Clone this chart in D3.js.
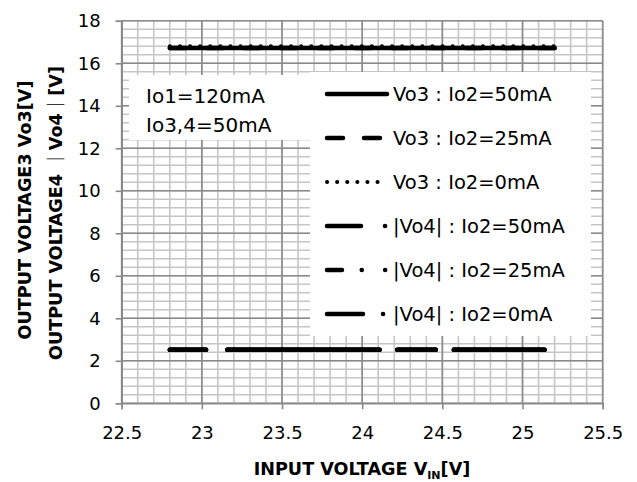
<!DOCTYPE html>
<meta charset="utf-8">
<script src="https://d3js.org/d3.v7.min.js"></script>
<style>
body { margin: 0; background: #fff; }
text { font-family: 'DejaVu Sans', 'Noto Sans CJK JP', sans-serif; fill: #000; }
.grid-minor { stroke: #c6c6c6; stroke-width: 1.6; }
.grid-major { stroke: #8a8a8a; stroke-width: 1.6; }
.axis path, .axis line { stroke: #8a8a8a; stroke-width: 1.6; }
.axis text { font-size: 18px; }
</style>
<div id="chart"></div>
<script>

// data
var vin = [22.8, 23.4, 24.0, 24.6, 25.2];
var vo3_50 = [16.72, 16.72, 16.72, 16.72, 16.72];
var vo3_25 = [16.72, 16.72, 16.72, 16.72, 16.72];
var vo3_0 = [16.8, 16.8, 16.8, 16.8, 16.8];
var vo4_50 = [2.52, 2.52, 2.52, 2.52, 2.52];
var vo4_25 = [2.52, 2.52, 2.52, 2.52, 2.52];
var vo4_0 = [2.52, 2.52, 2.52, 2.52, 2.52];

var xTickValues = [22.5, 23, 23.5, 24, 24.5, 25, 25.5];
var yTickValues = [0, 2, 4, 6, 8, 10, 12, 14, 16, 18];
var legendLabels = ["Vo3 : Io2=50mA", "Vo3 : Io2=25mA", "Vo3 : Io2=0mA",
                    "|Vo4| : Io2=50mA", "|Vo4| : Io2=25mA", "|Vo4| : Io2=0mA"];
var noteLabels = ["Io1=120mA", "Io3,4=50mA"];

// dash look of the three |Vo4| traces as Excel drew them
var vo4Dash = "36.3,21.2,152.2,17.8,38.5,18,90.7,20";

var series = [
  {y: vo3_50, dash: null, legendDash: null},
  {y: vo3_25, dash: "16,21", legendDash: "16,21"},
  {y: vo3_0, dash: "0.1,10", legendDash: "0.1,10", w: 4},
  {y: vo4_50, dash: vo4Dash, legendDash: "34,24,0.1,50"},
  {y: vo4_25, dash: vo4Dash, legendDash: "15,19.7,0.1,23.3,0.1,50"},
  {y: vo4_0, dash: vo4Dash, legendDash: "36,20,0.1,50"}
];

var margin = {top: 20.8, left: 121.7},
    width = 481,
    height = 382.5;

var svg = d3.select("#chart")
  .append("svg")
    .attr("width", 637)
    .attr("height", 482);

var g = svg.append("g")
    .attr("transform", "translate(" + margin.left + "," + margin.top + ")");

var x = d3.scaleLinear().domain([22.5, 25.5]).range([0, width]);
var y = d3.scaleLinear().domain([0, 18]).range([height, 0]);

// minor grid
var xMinor = d3.range(0, 31).map(function(i) { return 22.5 + i * 0.1; });
var yMinor = d3.range(0, 46).map(function(i) { return i * 0.4; });
g.selectAll(".gx").data(xMinor).enter().append("line")
  .attr("class", "grid-minor")
  .attr("x1", function(d) { return x(d); }).attr("x2", function(d) { return x(d); })
  .attr("y1", 0).attr("y2", height);
g.selectAll(".gy").data(yMinor).enter().append("line")
  .attr("class", "grid-minor")
  .attr("y1", function(d) { return y(d); }).attr("y2", function(d) { return y(d); })
  .attr("x1", 0).attr("x2", width);

// major grid
g.selectAll(".mx").data(xTickValues).enter().append("line")
  .attr("class", "grid-major")
  .attr("x1", function(d) { return x(d); }).attr("x2", function(d) { return x(d); })
  .attr("y1", 0).attr("y2", height);
g.selectAll(".my").data(yTickValues).enter().append("line")
  .attr("class", "grid-major")
  .attr("y1", function(d) { return y(d); }).attr("y2", function(d) { return y(d); })
  .attr("x1", 0).attr("x2", width);

// axes
g.append("g")
  .attr("class", "axis")
  .attr("transform", "translate(0," + height + ")")
  .call(d3.axisBottom(x).tickValues(xTickValues).tickSize(6).tickPadding(17)
        .tickFormat(d3.format("~g")))
  .call(function(a) { a.selectAll("text").attr("fill", "#000"); });

g.append("g")
  .attr("class", "axis")
  .call(d3.axisLeft(y).tickValues(yTickValues).tickSize(6).tickPadding(15))
  .call(function(a) { a.selectAll("text").attr("fill", "#000"); });

// white boxes behind the note and the legend
svg.append("rect").attr("x", 129).attr("y", 75).attr("width", 181).attr("height", 65)
  .attr("fill", "#fff");
svg.append("rect").attr("x", 310).attr("y", 72).attr("width", 281).attr("height", 264)
  .attr("fill", "#fff");

// data lines
var line = d3.line()
  .x(function(d) { return x(d[0]); })
  .y(function(d) { return y(d[1]); });

series.forEach(function(s) {
  g.append("path")
    .datum(d3.zip(vin, s.y))
    .attr("d", line)
    .attr("fill", "none")
    .attr("stroke", "#000")
    .attr("stroke-width", s.w || 4.5)
    .attr("stroke-linecap", "round")
    .attr("stroke-dasharray", s.dash);
});

// note text
svg.selectAll(".note").data(noteLabels).enter().append("text")
  .attr("x", 146)
  .attr("y", function(d, i) { return 96 + i * 29; })
  .attr("dy", "0.36em")
  .style("font-size", "20px")
  .text(function(d) { return d; });

// legend
var leg = svg.selectAll(".leg").data(series).enter().append("g")
  .attr("transform", function(d, i) { return "translate(0," + (94 + i * 44) + ")"; });
leg.append("line")
  .attr("x1", 327).attr("x2", 387)
  .attr("stroke", "#000")
  .attr("stroke-width", function(d) { return d.w || 4.5; })
  .attr("stroke-linecap", "round")
  .attr("stroke-dasharray", function(d) { return d.legendDash; });
leg.append("text")
  .attr("x", 393)
  .attr("dy", "0.36em")
  .style("font-size", "19.5px")
  .text(function(d, i) { return legendLabels[i]; });

// axis titles
svg.append("text")
  .attr("x", 362)
  .attr("y", 475)
  .attr("text-anchor", "middle")
  .style("font-size", "17.6px")
  .style("font-weight", "bold")
  .call(function(t) {
    t.append("tspan").text("INPUT VOLTAGE V");
    t.append("tspan").attr("dy", 4).style("font-size", "11px").text("IN");
    t.append("tspan").attr("dy", -4).text("[V]");
  });

svg.append("text")
  .attr("transform", "translate(25,210) rotate(-90)")
  .attr("text-anchor", "middle")
  .attr("dy", "0.36em")
  .style("font-size", "17.6px")
  .style("font-weight", "bold")
  .text("OUTPUT VOLTAGE3 Vo3[V]");

svg.append("text")
  .attr("transform", "translate(56,213) rotate(-90)")
  .attr("text-anchor", "middle")
  .attr("dy", "0.36em")
  .style("font-size", "17.6px")
  .style("font-weight", "bold")
  .text("OUTPUT VOLTAGE4 \uFF5CVo4\uFF5C[V]");

</script>
